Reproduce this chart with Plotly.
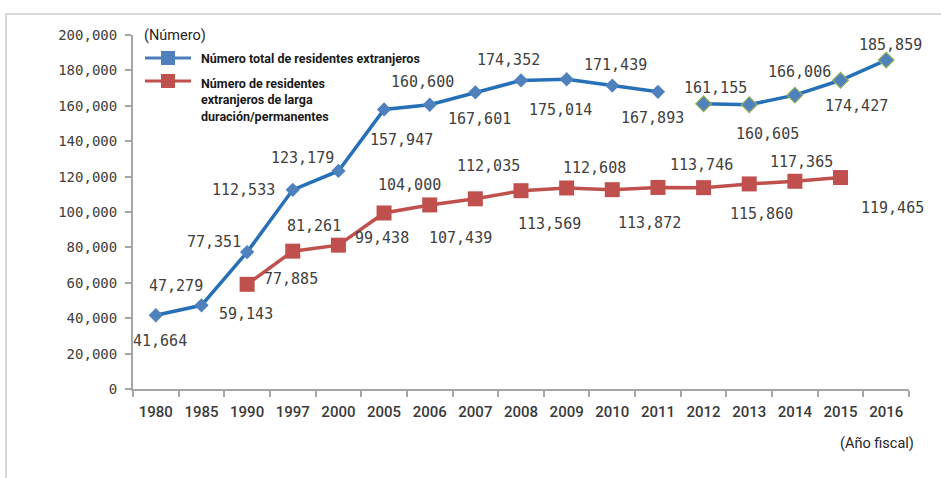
import plotly.graph_objects as go

# ---- data ----
years = ["1980", "1985", "1990", "1997", "2000", "2005", "2006", "2007", "2008",
         "2009", "2010", "2011", "2012", "2013", "2014", "2015", "2016"]
total_residents = [41664, 47279, 77351, 112533, 123179, 157947, 160600, 167601, 174352,
                   175014, 171439, 167893, 161155, 160605, 166006, 174427, 185859]
long_term_years = ["1990", "1997", "2000", "2005", "2006", "2007", "2008", "2009",
                   "2010", "2011", "2012", "2013", "2014", "2015"]
long_term_residents = [59143, 77885, 81261, 99438, 104000, 107439, 112035, 113569,
                       112608, 113872, 113746, 115860, 117365, 119465]
y_ticks = [0, 20000, 40000, 60000, 80000, 100000, 120000, 140000, 160000, 180000, 200000]

series1_name = "Número total de residentes extranjeros"
series2_name = "Número de residentes<br>extranjeros de larga<br>duración/permanentes"

# label offsets (px, dx right, dy down) to mimic reference placement
total_offsets = [(4, 26), (-25, -19), (-33, -10), (-49, 0), (-36, -13), (17, 31), (-7, -23),
                 (4, 27), (-13, -20), (-6, 31), (3, -21), (-5, 26), (12, -16), (18, 29),
                 (5, -23), (16, 26), (4, -15)]
long_offsets = [(-1, 30), (-2, 28), (-24, -19), (-2, 25), (-20, -20), (-15, 39), (-33, -25),
                (-17, 36), (-18, -22), (-8, 36), (-2, -23), (12, 30), (7, -19), (52, 30)]

# ---- layout geometry (px) ----
W, H = 941, 478
L, R, T, B = 133, 909, 35, 389


def px(x):
    return (x - L) / (R - L)


def py(y):
    return (B - y) / (B - T)


BLUE_LINE = "#2670B8"
BLUE_MARK = "#4F81BD"
RED = "#C0504D"
TXT = "#404040"
NUMFONT = "DejaVu Sans Mono"
SANS = "Roboto"

split = years.index("2012")

fig = go.Figure()
fig.add_trace(go.Scatter(
    x=years[:split], y=total_residents[:split], mode="lines+markers",
    line=dict(color=BLUE_LINE, width=3.5),
    marker=dict(symbol="diamond", size=11, color=BLUE_MARK),
    showlegend=False, cliponaxis=False, name=series1_name))
fig.add_trace(go.Scatter(
    x=years[split:], y=total_residents[split:], mode="lines+markers",
    line=dict(color=BLUE_LINE, width=3.5),
    marker=dict(symbol="diamond", size=12, color=BLUE_MARK,
                line=dict(color="#8FAE5A", width=1.2)),
    showlegend=False, cliponaxis=False, name=series1_name))
fig.add_trace(go.Scatter(
    x=long_term_years, y=long_term_residents, mode="lines+markers",
    line=dict(color=RED, width=3.5),
    marker=dict(symbol="square", size=15, color=RED),
    showlegend=False, cliponaxis=False, name="long term"))

annotations = []
for x, v, (dx, dy) in zip(years, total_residents, total_offsets):
    annotations.append(dict(x=years.index(x), y=v, xref="x", yref="y", text=f"{v:,}",
                            showarrow=False, xshift=dx, yshift=-dy,
                            font=dict(family=NUMFONT, size=15, color=TXT)))
for x, v, (dx, dy) in zip(long_term_years, long_term_residents, long_offsets):
    annotations.append(dict(x=years.index(x), y=v, xref="x", yref="y", text=f"{v:,}",
                            showarrow=False, xshift=dx, yshift=-dy,
                            font=dict(family=NUMFONT, size=15, color=TXT)))

# unit labels
annotations.append(dict(x=px(142), y=py(35), xref="paper", yref="paper", text="(Número)",
                        showarrow=False, xanchor="left", yanchor="middle",
                        font=dict(family=SANS, size=14.5, color="#262626")))
annotations.append(dict(x=px(916), y=py(443), xref="paper", yref="paper", text="(Año fiscal)",
                        showarrow=False, xanchor="right", yanchor="middle",
                        font=dict(family=SANS, size=14.5, color="#262626")))
# legend texts
annotations.append(dict(x=px(199), y=py(58), xref="paper", yref="paper", text=series1_name,
                        showarrow=False, xanchor="left", yanchor="middle",
                        font=dict(family=SANS, size=12.5, color="#1a1a1a", weight="bold")))
annotations.append(dict(x=px(199), y=py(100), xref="paper", yref="paper", text=series2_name,
                        showarrow=False, xanchor="left", yanchor="middle", align="left",
                        font=dict(family=SANS, size=12.5, color="#1a1a1a", weight="bold")))

shapes = [
    # outer frame
    dict(type="rect", xref="paper", yref="paper", x0=px(6), y0=py(14), x1=px(960), y1=py(500),
         line=dict(color="#D9D9D9", width=2), fillcolor="rgba(0,0,0,0)", layer="below"),
    # legend samples
    dict(type="line", xref="paper", yref="paper", x0=px(145), x1=px(191), y0=py(58), y1=py(58),
         line=dict(color="#4A7EBB", width=3)),
    dict(type="rect", xref="paper", yref="paper", x0=px(161), x1=px(175), y0=py(51), y1=py(65),
         line=dict(width=0), fillcolor=BLUE_MARK),
    dict(type="line", xref="paper", yref="paper", x0=px(145), x1=px(191), y0=py(81), y1=py(81),
         line=dict(color=RED, width=3)),
    dict(type="rect", xref="paper", yref="paper", x0=px(161), x1=px(175), y0=py(74), y1=py(88),
         line=dict(width=0), fillcolor=RED),
]

fig.update_layout(
    width=W, height=H, autosize=False,
    margin=dict(l=L, r=W - R, t=T, b=H - B, pad=0),
    paper_bgcolor="white", plot_bgcolor="white",
    showlegend=False,
    annotations=annotations, shapes=shapes,
    xaxis=dict(type="category", categoryorder="array", categoryarray=years,
               range=[-0.5, len(years) - 0.5],
               showline=True, linecolor="#A6A6A6", linewidth=2,
               ticks="outside", tickson="boundaries", ticklen=6, tickwidth=2, tickcolor="#A6A6A6",
               showgrid=False, zeroline=False, automargin=False, tickangle=0,
               tickfont=dict(family=SANS, size=15, color="#3A3A3A", weight=500),
               ticklabelstandoff=8),
    yaxis=dict(range=[0, 200000], tickvals=y_ticks, tickformat=",d",
               showline=True, linecolor="#A6A6A6", linewidth=2,
               ticks="outside", ticklen=6, tickwidth=2, tickcolor="#A6A6A6",
               showgrid=False, zeroline=False, automargin=False,
               tickfont=dict(family=NUMFONT, size=14, color=TXT), ticklabelstandoff=5),
)

fig.write_html("out.html", config={"displayModeBar": False},
               post_script="document.body.style.margin='0';")
